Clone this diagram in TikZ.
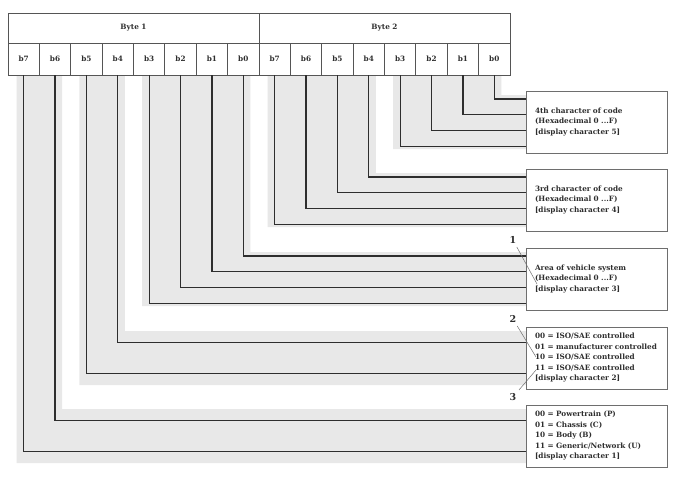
\documentclass[tikz,border=0pt]{standalone}
\usepackage{fontspec}
\setmainfont{DejaVu Serif}
\usetikzlibrary{backgrounds}
\definecolor{Wire}{HTML}{2E2E2E}
\definecolor{Band}{HTML}{E8E8E8}
\definecolor{Frame}{HTML}{555555}
\definecolor{Lead}{HTML}{707070}

\begin{document}
\begin{tikzpicture}[x=1pt,y=-1pt,every node/.style={font=\fontsize{7.3}{10.5}\selectfont\bfseries,text=Wire},
  bytecell/.style={draw=Frame,line width=0.9pt,fill=white,anchor=north west,minimum width=251pt,minimum height=30pt,inner sep=0pt,outer sep=0pt},
  bitcell/.style={draw=Frame,line width=0.9pt,fill=white,anchor=north west,minimum width=31.375pt,minimum height=32pt,inner sep=0pt,outer sep=0pt},
  infobox/.style={draw=Frame!85,line width=0.8pt,fill=white,anchor=north west,minimum height=62pt,inner xsep=9pt,text width=123pt,align=left,outer sep=0pt},
  wire/.style={Wire,line width=1.2pt},
  band/.style={fill=Band},
  leader/.style={Lead,line width=0.5pt},
  callout/.style={font=\fontsize{9.5}{10}\selectfont\bfseries}]
\useasboundingbox (0,0) rectangle (685,477);
% header: two bytes, sixteen bits
\node[bytecell] (byte1) at (8,13) {Byte 1};
\node[bytecell] (byte2) at (259,13) {Byte 2};
\foreach \k in {0,...,7}{\pgfmathtruncatemacro\bit{7-\k}
  \node[bitcell] (A\bit) at ({8+31.375*\k},43) {b\bit};
  \node[bitcell] (B\bit) at ({259+31.375*\k},43) {b\bit};}
% meaning of each group
\node[infobox] (box4th) at (526,91) {4th character of code\\(Hexadecimal 0 ...F)\\{[display character 5]}};
\node[infobox] (box3rd) at (526,169) {3rd character of code\\(Hexadecimal 0 ...F)\\{[display character 4]}};
\node[infobox] (boxArea) at (526,248) {Area of vehicle system\\(Hexadecimal 0 ...F)\\{[display character 3]}};
\node[infobox] (boxCtrl) at (526,327) {00 = ISO/SAE controlled\\01 = manufacturer\ controlled\\10 = ISO/SAE controlled\\11 = ISO/SAE controlled\\{[display character 2]}};
\node[infobox] (boxSys) at (526,405) {00 = Powertrain (P)\\01 = Chassis (C)\\10 = Body (B)\\11 = Generic/Network (U)\\{[display character 1]}};
% grey bands behind the wire groups
\begin{scope}[on background layer]
\fill[white] (0,0) rectangle (685,477);
\fill[band] ([xshift=-7pt]B3.south) |- ([yshift=4pt]box4th.south west) -- ([yshift=-4pt]box4th.north west) -| ([xshift=7pt]B0.south) -- cycle;
\fill[band] ([xshift=-7pt]B7.south) |- ([yshift=4pt]box3rd.south west) -- ([yshift=-4pt]box3rd.north west) -| ([xshift=7pt]B4.south) -- cycle;
\fill[band] ([xshift=-7pt]A3.south) |- ([yshift=4pt]boxArea.south west) -- ([yshift=-4pt]boxArea.north west) -| ([xshift=7pt]A0.south) -- cycle;
\fill[band] ([xshift=-7pt]A5.south) |- ([yshift=4pt]boxCtrl.south west) -- ([yshift=-4pt]boxCtrl.north west) -| ([xshift=7pt]A4.south) -- cycle;
\fill[band] ([xshift=-7pt]A7.south) |- ([yshift=4pt]boxSys.south west) -- ([yshift=-4pt]boxSys.north west) -| ([xshift=7pt]A6.south) -- cycle;
\end{scope}
% wires
\foreach \b in {0,...,3} \draw[wire] (B\b.south) |- ([yshift={-(8+15.7*\b)*1pt}]box4th.north west);
\foreach \b in {4,...,7} \draw[wire] (B\b.south) |- ([yshift={-(8+15.7*(\b-4))*1pt}]box3rd.north west);
\foreach \b in {0,...,3} \draw[wire] (A\b.south) |- ([yshift={-(8+15.7*\b)*1pt}]boxArea.north west);
\draw[wire] (A4.south) |- ([yshift=-15.5pt]boxCtrl.north west);\draw[wire] (A5.south) |- ([yshift=-46.5pt]boxCtrl.north west);
\draw[wire] (A6.south) |- ([yshift=-15.5pt]boxSys.north west);\draw[wire] (A7.south) |- ([yshift=-46.5pt]boxSys.north west);
% callouts
\node[callout] (n1) at (513,240) {1};\coordinate (e1) at (537,284);\draw[leader] (n1) -- (e1);
\node[callout] (n2) at (513,319) {2};\coordinate (e2) at (536,357);\draw[leader] (n2) -- (e2);
\node[callout] (n3) at (513,397) {3};\coordinate (e3) at (536,370);\draw[leader] (n3) -- (e3);
\end{tikzpicture}
\end{document}
